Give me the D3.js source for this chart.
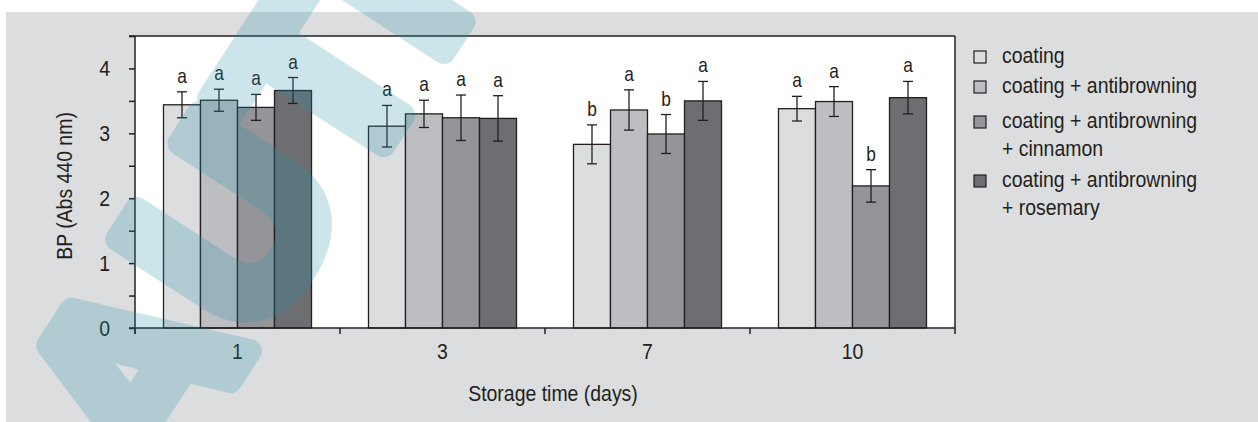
<!DOCTYPE html>
<html>
<head>
<meta charset="utf-8">
<script src="https://d3js.org/d3.v7.min.js"></script>
<style>
  body { margin: 0; background: #fff; }
  svg text { font-family: "Liberation Sans", Arial, sans-serif; fill: #231f20; }
</style>
</head>
<body>
<script>
// storage days on the x axis
var days = ["1", "3", "7", "10"];
var seriesNames = ["coating", "coating + antibrowning",
  "coating + antibrowning + cinnamon", "coating + antibrowning + rosemary"];
var legendLines = [["coating"], ["coating + antibrowning"],
  ["coating + antibrowning", "+ cinnamon"], ["coating + antibrowning", "+ rosemary"]];

// BP (Abs 440 nm) per series, one value per day
var coating      = [3.44, 3.11, 2.83, 3.38];
var antibrowning = [3.51, 3.30, 3.36, 3.49];
var cinnamon     = [3.40, 3.24, 2.99, 2.19];
var rosemary     = [3.66, 3.23, 3.50, 3.55];

var coatingErr      = [0.20, 0.32, 0.30, 0.19];
var antibrowningErr = [0.17, 0.21, 0.31, 0.23];
var cinnamonErr     = [0.20, 0.35, 0.30, 0.25];
var rosemaryErr     = [0.20, 0.35, 0.30, 0.25];

var coatingSig      = ["a", "a", "b", "a"];
var antibrowningSig = ["a", "a", "a", "a"];
var cinnamonSig     = ["a", "a", "b", "b"];
var rosemarySig     = ["a", "a", "a", "a"];

var yTicks = [0, 0.5, 1, 1.5, 2, 2.5, 3, 3.5, 4, 4.5];

var colors = ["#dcdddf", "#bcbec1", "#939598", "#6d6e71"];
var ink = "#231f20";

var values = [coating, antibrowning, cinnamon, rosemary];
var errs = [coatingErr, antibrowningErr, cinnamonErr, rosemaryErr];
var sigs = [coatingSig, antibrowningSig, cinnamonSig, rosemarySig];

var W = 1258, H = 422;
var mL = 135, mR = 955, mT = 36, mB = 328;
var SX = 0.865; // the original type is a condensed sans

// squeeze text horizontally, keeping its anchor point
function narrow(sel) {
  sel.each(function() {
    var t = d3.select(this);
    var x = +(t.attr("x") || 0);
    var tr = t.attr("transform") || "";
    t.attr("x", x / SX).attr("transform", tr + " scale(" + SX + ",1)");
  });
}

var svg = d3.select("body").append("svg")
  .attr("width", W).attr("height", H);

svg.append("rect").attr("x", 6).attr("y", 12)
  .attr("width", W - 6).attr("height", H - 12).attr("fill", "#dcdddf");

var x0 = d3.scaleBand().domain(days).range([mL, mR]);
var x1 = d3.scaleBand().domain(d3.range(4)).range([0, x0.bandwidth()])
  .paddingOuter(0.77);
var y = d3.scaleLinear().domain([0, 4.5]).range([mB, mT]);

// plot area
svg.append("rect").attr("x", mL).attr("y", mT)
  .attr("width", mR - mL).attr("height", mB - mT)
  .attr("fill", "#fff");

var data = [];
days.forEach(function(d, i) {
  for (var s = 0; s < 4; s++) {
    data.push({day: d, s: s, v: values[s][i], e: errs[s][i], sig: sigs[s][i]});
  }
});

function cx(d) { return x0(d.day) + x1(d.s) + x1.bandwidth() / 2; }

var g = svg.append("g");
g.selectAll("rect.bar").data(data).enter().append("rect")
  .attr("class", "bar")
  .attr("x", function(d) { return x0(d.day) + x1(d.s); })
  .attr("y", function(d) { return y(d.v); })
  .attr("width", x1.bandwidth())
  .attr("height", function(d) { return y(0) - y(d.v); })
  .attr("fill", function(d) { return colors[d.s]; })
  .attr("stroke", ink).attr("stroke-width", 1.3);

// error bars
var eb = g.selectAll("g.err").data(data).enter().append("g")
  .attr("transform", function(d) { return "translate(" + cx(d) + ",0)"; })
  .attr("stroke", ink).attr("stroke-width", 1.3);
eb.append("line").attr("x1", 0).attr("x2", 0)
  .attr("y1", function(d) { return y(d.v + d.e); })
  .attr("y2", function(d) { return y(d.v - d.e); });
eb.append("line").attr("x1", -5).attr("x2", 5)
  .attr("y1", function(d) { return y(d.v + d.e); })
  .attr("y2", function(d) { return y(d.v + d.e); });
eb.append("line").attr("x1", -5).attr("x2", 5)
  .attr("y1", function(d) { return y(d.v - d.e); })
  .attr("y2", function(d) { return y(d.v - d.e); });

g.selectAll("text.sig").data(data).enter().append("text")
  .attr("class", "sig")
  .attr("x", cx)
  .attr("y", function(d) { return y(d.v + d.e) - 9; })
  .attr("text-anchor", "middle")
  .style("font-size", "20px")
  .text(function(d) { return d.sig; })
  .call(narrow);

// frame top and right
svg.append("line").attr("x1", mL - 6).attr("x2", mR)
  .attr("y1", mT).attr("y2", mT).attr("stroke", ink).attr("stroke-width", 1.5);
svg.append("line").attr("x1", mR).attr("x2", mR)
  .attr("y1", mT).attr("y2", mB).attr("stroke", ink).attr("stroke-width", 1.5);

// y axis
var yAxis = svg.append("g").attr("transform", "translate(" + mL + ",0)")
  .call(d3.axisLeft(y).tickValues(yTicks).tickSize(6).tickPadding(19)
    .tickFormat(function(d) { return d % 1 === 0 ? d : ""; }));
yAxis.select(".domain").remove();
yAxis.append("line").attr("x1", 0).attr("x2", 0).attr("y1", mT).attr("y2", mB + 6);
yAxis.selectAll("line").attr("stroke", ink).attr("stroke-width", 1.5);
yAxis.selectAll("text").style("font-size", "22.5px").attr("fill", ink)
  .attr("font-family", null).call(narrow);

// x axis
var xAxis = svg.append("g").attr("transform", "translate(0," + mB + ")")
  .call(d3.axisBottom(x0).tickSize(0).tickPadding(15.5));
xAxis.select(".domain").remove();
xAxis.append("line").attr("x1", mL - 6).attr("x2", mR).attr("y1", 0).attr("y2", 0);
var bounds = days.map(function(d) { return x0(d); }).concat([mR]);
xAxis.selectAll("line.bound").data(bounds).enter().append("line")
  .attr("class", "bound")
  .attr("x1", function(d) { return d; }).attr("x2", function(d) { return d; })
  .attr("y1", 0).attr("y2", 6);
xAxis.selectAll("line").attr("stroke", ink).attr("stroke-width", 1.5);
xAxis.selectAll("text").style("font-size", "22.5px").attr("fill", ink)
  .attr("font-family", null).call(narrow);

// axis titles
svg.append("text").attr("transform", "translate(72,186) rotate(-90)")
  .attr("text-anchor", "middle").style("font-size", "22.5px")
  .text("BP (Abs 440 nm)").call(narrow);
svg.append("text").attr("x", 553).attr("y", 401)
  .attr("text-anchor", "middle").style("font-size", "22.5px")
  .text("Storage time (days)").call(narrow);

// legend
var legendY = [63, 93, 128, 187];
var leg = svg.selectAll("g.leg").data(seriesNames).enter().append("g")
  .attr("transform", function(d, i) { return "translate(974," + legendY[i] + ")"; });
leg.append("rect").attr("x", 0).attr("y", -12).attr("width", 12).attr("height", 12)
  .attr("fill", function(d, i) { return colors[i]; })
  .attr("stroke", ink).attr("stroke-width", 1.2);
leg.each(function(d, i) {
  d3.select(this).selectAll("text").data(legendLines[i]).enter().append("text")
    .attr("x", 28).attr("y", function(t, j) { return j * 28; })
    .style("font-size", "22.5px")
    .text(function(t) { return t; })
    .call(narrow);
});

// watermark
var wm = svg.append("g").attr("opacity", 0.23);
wm.append("text")
  .attr("transform", "translate(155,497) rotate(-57)")
  .style("font-family", "'Liberation Sans', sans-serif")
  .style("font-size", "250px").style("font-weight", "bold")
  .style("fill", "rgb(37,146,168)").style("stroke", "rgb(37,146,168)")
  .style("stroke-width", 24).style("stroke-linejoin", "round")
  .text("AUTHOR COPY");
</script>
</body>
</html>
